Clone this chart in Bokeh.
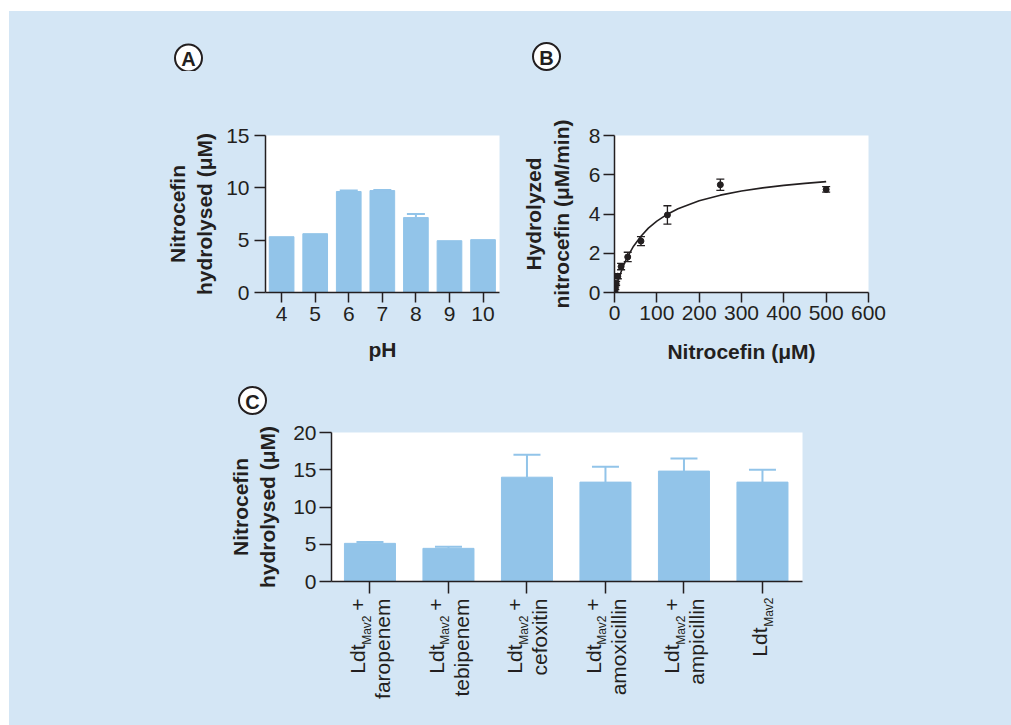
import math
from bokeh.plotting import figure
from bokeh.models import ColumnDataSource, Whisker, TeeHead, FixedTicker, Range1d, Spacer
from bokeh.layouts import column, row
from bokeh.core.properties import value
from bokeh.embed import file_html
from bokeh.resources import INLINE

BG = "#d4e6f5"
BAR = "#92c4e9"
INK = "#231f20"
FONT = "Liberation Sans"

# ---------------- Panel A data ----------------
PH = [4, 5, 6, 7, 8, 9, 10]
A_VALUES = [5.33, 5.62, 9.65, 9.74, 7.16, 4.95, 5.05]
A_ERR = [0.0, 0.0, 0.09, 0.06, 0.34, 0.0, 0.0]
A_YTICKS = [0, 5, 10, 15]

# ---------------- Panel B data ----------------
B_CONC = [0, 1.95, 3.9, 7.8, 15.6, 31.25, 62.5, 125, 250, 500]
B_RATE = [0.03, 0.22, 0.47, 0.83, 1.32, 1.81, 2.62, 3.95, 5.49, 5.25]
B_ERR = [0.04, 0.07, 0.10, 0.13, 0.16, 0.24, 0.23, 0.47, 0.29, 0.14]
FIT_X = [0, 2, 5, 10, 20, 30, 45, 62.5, 80, 100, 125, 150, 200, 250, 300, 350, 400, 450, 500]
FIT_Y = [0, 0.16, 0.39, 0.73, 1.31, 1.79, 2.36, 2.87, 3.28, 3.64, 3.99, 4.27, 4.68, 4.96, 5.17, 5.33, 5.46, 5.56, 5.65]
B_XTICKS = [0, 100, 200, 300, 400, 500, 600]
B_YTICKS = [0, 2, 4, 6, 8]

# ---------------- Panel C data ----------------
ENZYME = "Ldt"
ENZYME_SUB = "Mav2"
C_DRUGS = ["faropenem", "tebipenem", "cefoxitin", "amoxicillin", "ampicillin", ""]
C_VALUES = [5.12, 4.45, 14.0, 13.34, 14.82, 13.34]
C_ERR = [0.18, 0.22, 3.0, 2.06, 1.68, 1.66]
C_YTICKS = [0, 5, 10, 15, 20]

PANEL_LETTERS = ["A", "B", "C"]


def style_axes(p):
    for ax in p.axis:
        ax.axis_line_color = INK
        ax.axis_line_width = 1.5
        ax.major_tick_line_color = INK
        ax.major_tick_line_width = 1.5
        ax.major_tick_out = 11
        ax.major_tick_in = 0
        ax.minor_tick_line_color = None
        ax.major_label_text_font = FONT
        ax.major_label_text_font_size = "21px"
        ax.major_label_text_color = INK
        ax.axis_label_text_font = FONT
        ax.axis_label_text_font_size = "21px"
        ax.axis_label_text_font_style = "bold"
        ax.axis_label_text_color = INK


def base_fig(width, height, left, right, top, bottom, xr, yr, axes=True):
    kw = {}
    if not axes:
        kw = dict(x_axis_location=None, y_axis_location=None)
    p = figure(width=width, height=height, x_range=xr, y_range=yr,
               output_backend="svg", toolbar_location=None, tools="",
               min_border_left=left, min_border_right=right,
               min_border_top=top, min_border_bottom=bottom, **kw)
    p.border_fill_color = BG
    p.background_fill_color = "white" if axes else BG
    p.outline_line_color = None
    p.grid.visible = False
    if axes:
        style_axes(p)
    return p


def up_whisker(p, xs, vals, errs, color, cap):
    keep = [i for i, e in enumerate(errs) if e > 0]
    src = ColumnDataSource(dict(x=[xs[i] for i in keep],
                                lo=[vals[i] for i in keep],
                                hi=[vals[i] + errs[i] for i in keep]))
    w = Whisker(source=src, base="x", lower="lo", upper="hi", dimension="height",
                line_color=color, line_width=2,
                upper_head=TeeHead(size=cap, line_color=color, line_width=2),
                lower_head=None)
    p.add_layout(w)


def letter_strip(width, height, x0, y0, letters, centers):
    # ranges map directly to page pixel coordinates
    p = base_fig(width, height, 0, 0, 0, 0, Range1d(x0, x0 + width),
                 Range1d(y0 + height, y0), axes=False)
    src = ColumnDataSource(dict(x=[c[0] for c in centers], y=[c[1] for c in centers],
                                t=letters))
    p.scatter("x", "y", source=src, size=27, marker="circle", fill_color="white",
              line_color=INK, line_width=2)
    p.text("x", "y", text="t", source=src, text_align="center", text_baseline="middle",
           text_font=value(FONT), text_font_size="20px", text_font_style="bold",
           text_color=INK, y_offset=1)
    return p


ROT = math.pi / 2

# ---------------- top letters ----------------
strip_top = letter_strip(1002, 60, 9, 11, PANEL_LETTERS[:2], [(188, 57.5), (546, 56)])

# ---------------- Panel A ----------------
pA = base_fig(506, 314, 256, 16, 64, 93, Range1d(3.52, 10.49), Range1d(0, 15))
pA.xaxis.ticker = FixedTicker(ticks=PH)
pA.yaxis.ticker = FixedTicker(ticks=A_YTICKS)
pA.xaxis.major_tick_out = 10
pA.xaxis.major_label_standoff = 4
pA.yaxis.major_label_standoff = 5
pA.yaxis.axis_label = "Nitrocefin\nhydrolysed (μM)"
pA.yaxis.axis_label_standoff = 7
pA.xaxis.axis_label = "pH"
pA.xaxis.axis_label_standoff = 14
pA.vbar(x=PH, top=A_VALUES, width=0.735, color=BAR)
up_whisker(pA, PH, A_VALUES, A_ERR, BAR, 18)

# ---------------- Panel B ----------------
pB = base_fig(496, 314, 99, 143, 12, 93, Range1d(0, 600), Range1d(0, 8))
pB.xaxis.ticker = FixedTicker(ticks=B_XTICKS)
pB.yaxis.ticker = FixedTicker(ticks=B_YTICKS)
pB.xaxis.major_tick_out = 10
pB.xaxis.major_label_standoff = 3
pB.yaxis.major_label_standoff = 3
pB.yaxis.axis_label = "Hydrolyzed\nnitrocefin (μM/min)"
pB.yaxis.axis_label_standoff = 13
pB.xaxis.axis_label = "Nitrocefin (μM)"
pB.xaxis.axis_label_standoff = 17
pB.line(FIT_X, FIT_Y, line_color=INK, line_width=1.6)
srcB = ColumnDataSource(dict(x=B_CONC, y=B_RATE,
                             lo=[y - e for y, e in zip(B_RATE, B_ERR)],
                             hi=[y + e for y, e in zip(B_RATE, B_ERR)]))
pB.add_layout(Whisker(source=srcB, base="x", lower="lo", upper="hi", dimension="height",
                      line_color=INK, line_width=1.3,
                      upper_head=TeeHead(size=8, line_color=INK, line_width=1.3),
                      lower_head=TeeHead(size=8, line_color=INK, line_width=1.3)))
pB.scatter("x", "y", source=srcB, size=6, color=INK)

# ---------------- C letter ----------------
strip_mid = letter_strip(1002, 33, 9, 385, PANEL_LETTERS[2:], [(252, 400)])

# ---------------- Panel C ----------------
XC = list(range(len(C_DRUGS)))
pC = base_fig(1002, 178, 322, 209, 14, 15, Range1d(-0.49, 5.51), Range1d(0, 20))
pC.xaxis.ticker = FixedTicker(ticks=XC)
pC.xaxis.major_label_text_font_size = "0px"
pC.xaxis.major_label_text_color = None
pC.xaxis.major_label_standoff = 0
pC.yaxis.ticker = FixedTicker(ticks=C_YTICKS)
pC.xaxis.major_tick_out = 12
pC.yaxis.major_tick_out = 12
pC.yaxis.major_label_standoff = 3
pC.yaxis.axis_label = "Nitrocefin\nhydrolysed (μM)"
pC.yaxis.axis_label_standoff = 11
pC.vbar(x=XC, top=C_VALUES, width=0.65, color=BAR)
up_whisker(pC, XC, C_VALUES, C_ERR, BAR, 27)

# ---------------- Panel C category labels (rotated, with subscript) ----------------
pL = base_fig(1002, 129, 322, 209, 0, 0, pC.x_range, Range1d(725, 596), axes=False)
big = dict(x=[], y=[], t=[], dx=[])
small = dict(x=[], y=[], t=[], dx=[])
for i, drug in enumerate(C_DRUGS):
    if drug:
        for t, y, dx in (("+", 598, -12), (ENZYME, 644, -12), (drug, 598, 13)):
            big["x"].append(i); big["y"].append(y); big["t"].append(t); big["dx"].append(dx)
        small["x"].append(i); small["y"].append(615); small["t"].append(ENZYME_SUB); small["dx"].append(-3)
    else:
        big["x"].append(i); big["y"].append(627); big["t"].append(ENZYME); big["dx"].append(-3)
        small["x"].append(i); small["y"].append(597); small["t"].append(ENZYME_SUB); small["dx"].append(7)
for d, size in ((big, "21px"), (small, "12px")):
    pL.text("x", "y", text="t", x_offset="dx", source=ColumnDataSource(d), angle=ROT,
            text_align="right", text_baseline="middle", text_font=value(FONT),
            text_font_size=size, text_color=INK)

inner = column(
    row(strip_top, styles={"background-color": BG}),
    row(pA, pB, styles={"background-color": BG}),
    row(strip_mid, styles={"background-color": BG}),
    pC,
    pL,
    styles={"background-color": BG},
)
layout = column(Spacer(height=11, width=1011), row(Spacer(width=9, height=714), inner))
open("out.html", "w").write(file_html(layout, INLINE))
